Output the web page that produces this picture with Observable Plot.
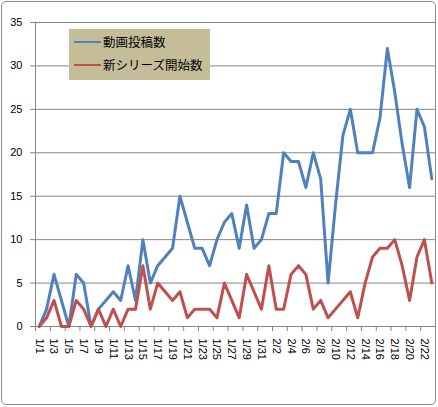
<!DOCTYPE html>
<html><head><meta charset="utf-8">
<script src="https://cdn.jsdelivr.net/npm/d3@7"></script>
<script src="https://cdn.jsdelivr.net/npm/@observablehq/plot@0.6"></script>
<style>
body{margin:0;background:#fff;}
#wrap{position:relative;width:438px;height:407px;overflow:hidden;}
#border{position:absolute;left:1px;top:1px;width:433px;height:402px;border:1px solid #8c8c8c;border-radius:5px;pointer-events:none;}
#legend{position:absolute;left:69px;top:29px;width:141px;height:51px;background:#C4BD97;font-family:"Noto Sans CJK JP",sans-serif;font-size:12.5px;color:#000;}
#legend .sw{position:absolute;left:5px;width:27px;height:2px;}
#legend .lb{position:absolute;left:34px;line-height:16px;white-space:nowrap;}
</style></head><body><div id="wrap"></div>
<script>
const dates = ["1/1","1/2","1/3","1/4","1/5","1/6","1/7","1/8","1/9","1/10","1/11","1/12","1/13","1/14","1/15","1/16","1/17","1/18","1/19","1/20","1/21","1/22","1/23","1/24","1/25","1/26","1/27","1/28","1/29","1/30","1/31","2/1","2/2","2/3","2/4","2/5","2/6","2/7","2/8","2/9","2/10","2/11","2/12","2/13","2/14","2/15","2/16","2/17","2/18","2/19","2/20","2/21","2/22","2/23"];
const videos = [0,2,6,3,0,6,5,0,2,3,4,3,7,3,10,5,7,8,9,15,12,9,9,7,10,12,13,9,14,9,10,13,13,20,19,19,16,20,17,5,14,22,25,20,20,20,24,32,27,21,16,25,23,17];
const newSeries = [0,1,3,0,0,3,2,0,2,0,2,0,2,2,7,2,5,4,3,4,1,2,2,2,1,5,3,1,6,4,2,7,2,2,6,7,6,2,3,1,2,3,4,1,5,8,9,9,10,7,3,8,10,5];
const seriesNames = ["動画投稿数","新シリーズ開始数"];
const seriesColors = ["#4F81BD","#C0504D"];
const yTicks = [0,5,10,15,20,25,30,35];

const data = dates.map((d,i)=>({x:i+0.5, label:d, a:videos[i], b:newSeries[i]}));
const labelData = data.filter((d,i)=>i%2===0);
const boundaries = d3.range(0, dates.length+1, 2);

const plot = Plot.plot({
  width:438, height:407,
  marginLeft:35, marginRight:3, marginTop:22, marginBottom:81,
  x:{type:"linear", domain:[0,dates.length], axis:null},
  y:{domain:[0,35], axis:null},
  style:{fontFamily:"'Liberation Sans', Arial, sans-serif", fontSize:"11px", background:"transparent", color:"#000"},
  marks:[
    Plot.ruleY(yTicks, {stroke:"#868686", strokeWidth:1}),
    Plot.ruleX([0], {stroke:"#868686", strokeWidth:1}),
    Plot.axisY({ticks:yTicks, tickSize:5, tickPadding:8, stroke:"#868686", label:null, fontSize:11}),
    Plot.axisX({ticks:boundaries, tickSize:5, tickFormat:()=>"", stroke:"#868686", label:null}),
    Plot.text(labelData, {x:"x", frameAnchor:"bottom", text:"label", rotate:90, textAnchor:"start", lineAnchor:"middle", dy:12, fontSize:11, fill:"#000"}),
    Plot.lineY(data, {x:"x", y:"a", stroke:seriesColors[0], strokeWidth:3}),
    Plot.lineY(data, {x:"x", y:"b", stroke:seriesColors[1], strokeWidth:3})
  ]
});
const wrap = document.getElementById("wrap");
wrap.appendChild(plot);
const border = document.createElement("div"); border.id="border"; wrap.appendChild(border);
const legend = document.createElement("div"); legend.id="legend";
seriesNames.forEach((n,i)=>{
  const sw=document.createElement("span"); sw.className="sw"; sw.style.background=seriesColors[i]; sw.style.top=(12+i*23)+"px"; legend.appendChild(sw);
  const lb=document.createElement("span"); lb.className="lb"; lb.textContent=n; lb.style.top=(5+i*23)+"px"; legend.appendChild(lb);
});
wrap.appendChild(legend);
plot.style.position="absolute"; plot.style.left="0"; plot.style.top="0";
</script></body></html>
